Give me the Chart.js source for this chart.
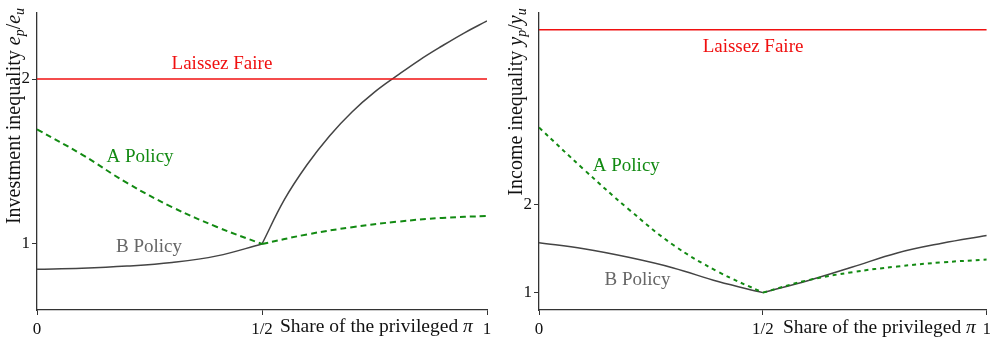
<!DOCTYPE html>
<html>
<head>
<meta charset="utf-8">
<script src="https://cdn.jsdelivr.net/npm/chart.js@4.4.0/dist/chart.umd.min.js"></script>
<style>
  body { margin: 0; background: #fff; width: 995px; height: 340px; overflow: hidden; position: relative; }
  canvas { position: absolute; top: 0; }
  #inv { left: 0; }
  #inc { left: 497px; }
</style>
</head>
<body>
<canvas id="inv" width="497" height="340"></canvas>
<canvas id="inc" width="498" height="340"></canvas>
<script>
// ---- data ----
const xTicks = [0, 0.5, 1];
const xTickLabels = ["0", "1/2", "1"];
const yTicks = [1, 2];

const xEnds = [0, 1];
const xLow = [0, 0.1, 0.2, 0.3, 0.4, 0.5];
const xHigh = [0.5, 0.6, 0.7, 0.8, 0.9, 1];
const xHighDense = [0.5, 0.55, 0.6, 0.65, 0.7, 0.75, 0.8, 0.85, 0.9, 0.95, 1];

// investment inequality e_p / e_u
const invLaissez = [2, 2];
const invALow = [1.695, 1.542, 1.370, 1.224, 1.103, 1.0];
const invAHigh = [1.0, 1.058, 1.102, 1.135, 1.158, 1.170];
const invBLow = [0.847, 0.853, 0.866, 0.888, 0.928, 1.0];
const invBHigh = [1.0, 1.27, 1.48, 1.655, 1.80, 1.92, 2.02, 2.115, 2.20, 2.28, 2.352];

// income inequality y_p / y_u
const incLaissez = [3.98, 3.98];
const incALow = [2.872, 2.397, 1.946, 1.540, 1.237, 1.0];
const incAHigh = [1.0, 1.14, 1.232, 1.296, 1.343, 1.375];
const incBLow = [1.565, 1.497, 1.40, 1.28, 1.125, 1.0];
const incBHigh = [1.0, 1.135, 1.29, 1.45, 1.56, 1.648];

const RED = "#f01010";
const GREEN = "#128a12";
const GRAY = "#444444";
const AXIS = "#333333";
const FONT = "Liberation Serif";

Chart.defaults.font.family = FONT;

const pts = (xs, ys) => xs.map((x, i) => ({ x: x, y: ys[i] }));

function runWidth(ctx, runs, size) {
  let w = 0;
  runs.forEach(r => {
    ctx.font = (r.it ? "italic " : "") + (r.sub ? size * 0.7 : size) + "px " + FONT;
    r.w = ctx.measureText(r.t).width;
    w += r.w;
  });
  return w;
}

function drawRuns(ctx, runs, x, size) {
  runs.forEach(r => {
    ctx.font = (r.it ? "italic " : "") + (r.sub ? size * 0.7 : size) + "px " + FONT;
    ctx.fillText(r.t, x, r.sub ? size * 0.28 : 0);
    x += r.w;
  });
}

function makeChart(id, c) {
  const line = (data, color, width, dash) => ({
    data: data, borderColor: color, borderWidth: width, borderDash: dash || [],
    pointRadius: 0, fill: false, tension: 0.4
  });

  const notes = {
    id: "notes",
    afterDraw(chart) {
      const ctx = chart.ctx;
      const xs = chart.scales.x, ys = chart.scales.y;
      ctx.save();
      ctx.textBaseline = "middle";
      ctx.textAlign = "center";
      c.notes.forEach(n => {
        ctx.font = "19px " + FONT;
        ctx.fillStyle = n.color;
        ctx.fillText(n.text, xs.getPixelForValue(n.x), ys.getPixelForValue(n.y));
      });

      // x axis title, inline with tick labels
      ctx.textAlign = "left";
      ctx.fillStyle = "#111";
      ctx.save();
      ctx.translate(c.xTitle[0], c.xTitle[1]);
      const xr = [{ t: "Share of the privileged " }, { t: "π", it: true }];
      runWidth(ctx, xr, 19.5);
      drawRuns(ctx, xr, 0, 19.5);
      ctx.restore();

      // y axis title, rotated
      ctx.save();
      ctx.translate(c.yTitle[0], c.yTitle[1]);
      ctx.rotate(-Math.PI / 2);
      const w = runWidth(ctx, c.yRuns, 20);
      drawRuns(ctx, c.yRuns, -w / 2, 20);
      ctx.restore();
      ctx.restore();
    }
  };

  return new Chart(document.getElementById(id), {
    type: "line",
    data: {
      datasets: [
        line(pts(xEnds, c.laissez), RED, 1.5),
        line(pts(xLow, c.aLow), GREEN, 2, c.dash),
        line(pts(xHigh, c.aHigh), GREEN, 2, c.dash),
        line(pts(xLow, c.bLow), GRAY, 1.5),
        line(pts(c.bHighX, c.bHigh), GRAY, 1.5)
      ]
    },
    options: {
      responsive: false,
      animation: false,
      devicePixelRatio: 1,
      layout: { padding: c.padding },
      plugins: { legend: { display: false }, tooltip: { enabled: false } },
      scales: {
        x: {
          type: "linear", min: 0, max: 1,
          afterBuildTicks: s => { s.ticks = xTicks.map(v => ({ value: v })); },
          afterFit: s => { s.height = 30; },
          ticks: {
            autoSkip: false, maxRotation: 0, padding: 4, color: "#111",
            font: { size: 17 },
            callback: v => xTickLabels[xTicks.indexOf(v)]
          },
          grid: { drawOnChartArea: false, tickLength: 5, color: AXIS, lineWidth: 1 },
          border: { color: AXIS, width: 1.3 }
        },
        y: {
          type: "linear", min: c.yMin, max: c.yMax,
          afterBuildTicks: s => { s.ticks = yTicks.map(v => ({ value: v })); },
          afterFit: s => { s.width = 37; },
          ticks: { padding: 2, color: "#111", font: { size: 17 } },
          grid: { drawOnChartArea: false, tickLength: 5, color: AXIS, lineWidth: 1 },
          border: { color: AXIS, width: 1.3 }
        }
      }
    },
    plugins: [notes]
  });
}

makeChart("inv", {
  laissez: invLaissez, aLow: invALow, aHigh: invAHigh, bLow: invBLow, bHigh: invBHigh,
  bHighX: xHighDense, yMin: 0.6, yMax: 2.4, dash: [6, 4],
  padding: { left: 0, right: 10, top: 13, bottom: 0 },
  notes: [
    { text: "Laissez Faire", x: 0.411, y: 2.09, color: RED },
    { text: "A Policy", x: 0.229, y: 1.527, color: GREEN },
    { text: "B Policy", x: 0.249, y: 0.982, color: "#666" }
  ],
  xTitle: [280, 327],
  yTitle: [15, 116],
  yRuns: [{ t: "Investment inequality " }, { t: "e", it: true }, { t: "p", it: true, sub: true },
          { t: "/" }, { t: "e", it: true }, { t: "u", it: true, sub: true }]
});

makeChart("inc", {
  laissez: incLaissez, aLow: incALow, aHigh: incAHigh, bLow: incBLow, bHigh: incBHigh,
  bHighX: xHigh, yMin: 0.803, yMax: 4.17, dash: [4, 4],
  padding: { left: 5, right: 5, top: 13, bottom: 0 },
  notes: [
    { text: "Laissez Faire", x: 0.478, y: 3.78, color: RED },
    { text: "A Policy", x: 0.195, y: 2.43, color: GREEN },
    { text: "B Policy", x: 0.22, y: 1.14, color: "#666" }
  ],
  xTitle: [286, 328],
  yTitle: [20, 102],
  yRuns: [{ t: "Income inequality " }, { t: "y", it: true }, { t: "p", it: true, sub: true },
          { t: "/" }, { t: "y", it: true }, { t: "u", it: true, sub: true }]
});
</script>
</body>
</html>
